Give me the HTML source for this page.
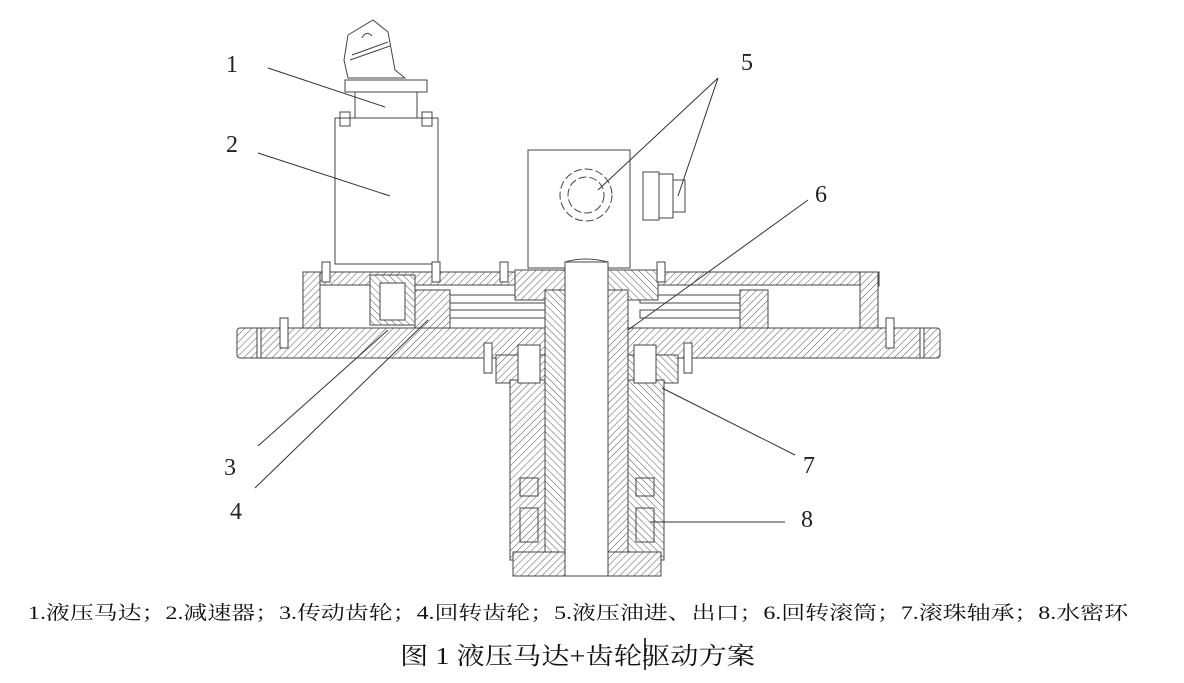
<!DOCTYPE html>
<html><head><meta charset="utf-8"><style>
html,body{margin:0;padding:0;background:#fff;width:1184px;height:683px;overflow:hidden}
svg{display:block}
</style></head><body>
<svg width="1184" height="683" viewBox="0 0 1184 683" xmlns="http://www.w3.org/2000/svg">
<defs>
<pattern id="h" width="5" height="5" patternUnits="userSpaceOnUse" patternTransform="rotate(45)">
<rect width="5" height="5" fill="#fff"/><line x1="0" y1="0" x2="0" y2="5" stroke="#555" stroke-width="1"/>
</pattern>
<pattern id="h2" width="5" height="5" patternUnits="userSpaceOnUse" patternTransform="rotate(-45)">
<rect width="5" height="5" fill="#fff"/><line x1="0" y1="0" x2="0" y2="5" stroke="#555" stroke-width="1"/>
</pattern>
</defs>
<g stroke="#444" stroke-width="1" fill="none">
<!-- motor top -->
<path d="M348 35 L373 20 L388 32 L395 70 L405 78 L348 78 L344 60 Z" fill="#fff"/>
<path d="M352 55 L388 42" /><path d="M350 60 L390 46"/>
<path d="M362 38 q4 -8 10 -2" />
<rect x="345" y="80" width="82" height="12" fill="#fff"/>
<rect x="355" y="92" width="62" height="32" fill="#fff"/>
<!-- motor/reducer body -->
<rect x="335" y="118" width="103" height="146" fill="#fff"/>
<rect x="340" y="112" width="10" height="14"/><rect x="422" y="112" width="10" height="14"/>
<!-- valve block -->
<rect x="528" y="150" width="102" height="118" fill="#fff"/>
<circle cx="586" cy="195" r="26" stroke-dasharray="8 3"/>
<circle cx="586" cy="195" r="18" stroke-dasharray="8 3"/>
<rect x="643" y="172" width="16" height="48"/><rect x="659" y="174" width="14" height="44"/><rect x="673" y="180" width="12" height="32"/>
<!-- top cover -->
<rect x="303" y="272" width="576" height="14" fill="url(#h)"/>
<rect x="303" y="272" width="17" height="58" fill="url(#h)"/>
<rect x="860" y="272" width="18" height="58" fill="url(#h)"/>
<rect x="320" y="285" width="540" height="44" fill="#fff"/>
<!-- gears -->
<rect x="370" y="275" width="45" height="50" fill="url(#h2)"/>
<rect x="380" y="283" width="25" height="37" fill="#fff"/>
<rect x="415" y="290" width="35" height="38" fill="url(#h)"/>
<rect x="450" y="295" width="100" height="8" /><rect x="450" y="310" width="100" height="8"/>
<rect x="640" y="295" width="115" height="8" /><rect x="640" y="310" width="115" height="8"/>
<rect x="740" y="290" width="28" height="38" fill="url(#h)"/>
<rect x="515" y="270" width="50" height="30" fill="url(#h)"/>
<rect x="608" y="270" width="50" height="30" fill="url(#h2)"/>
<!-- flange plate -->
<rect x="237" y="328" width="703" height="30" rx="3" fill="url(#h)"/>
<rect x="257" y="328" width="4" height="30" fill="#fff"/><rect x="920" y="328" width="4" height="30" fill="#fff"/>
<!-- lower tube -->
<rect x="496" y="355" width="52" height="28" fill="url(#h)"/>
<rect x="626" y="355" width="52" height="28" fill="url(#h2)"/>
<rect x="510" y="380" width="38" height="180" fill="url(#h)"/>
<rect x="626" y="380" width="38" height="180" fill="url(#h2)"/>
<rect x="545" y="290" width="20" height="265" fill="url(#h2)"/>
<rect x="608" y="290" width="20" height="265" fill="url(#h)"/>
<rect x="513" y="552" width="148" height="24" fill="url(#h)"/>
<rect x="565" y="262" width="43" height="314" fill="#fff"/>
<path d="M565 262 q20 -6 43 0"/>
<rect x="518" y="345" width="22" height="38" fill="#fff"/><rect x="634" y="345" width="22" height="38" fill="#fff"/>
<rect x="520" y="478" width="18" height="18"/><rect x="636" y="478" width="18" height="18"/>
<rect x="520" y="508" width="18" height="34"/><rect x="636" y="508" width="18" height="34"/>
<!-- bolts -->
<g fill="#fff"><rect x="280" y="318" width="8" height="30"/><rect x="886" y="318" width="8" height="30"/>
<rect x="484" y="343" width="8" height="30"/><rect x="684" y="343" width="8" height="30"/>
<rect x="322" y="262" width="8" height="20"/><rect x="432" y="262" width="8" height="20"/>
<rect x="500" y="262" width="8" height="20"/><rect x="657" y="262" width="8" height="20"/></g>
</g>
<!-- leaders -->
<g stroke="#333" stroke-width="1" fill="none">
<line x1="268" y1="68" x2="385" y2="107"/>
<line x1="258" y1="153" x2="390" y2="196"/>
<line x1="718" y1="78" x2="598" y2="190"/>
<line x1="718" y1="78" x2="678" y2="196"/>
<line x1="808" y1="200" x2="628" y2="330"/>
<line x1="795" y1="455" x2="662" y2="388"/>
<line x1="785" y1="522" x2="650" y2="522"/>
<line x1="258" y1="446" x2="388" y2="330"/>
<line x1="255" y1="488" x2="428" y2="320"/>
</g>
<g font-family="'Liberation Serif',serif" font-size="24" fill="#222">
<text x="226" y="72">1</text><text x="226" y="152">2</text><text x="224" y="475">3</text><text x="230" y="519">4</text>
<text x="741" y="70">5</text><text x="815" y="202">6</text><text x="803" y="473">7</text><text x="801" y="527">8</text>
</g>
<g font-family="'Liberation Serif','Noto Serif CJK SC',serif" fill="#111">
<text x="28" y="619" font-size="19" textLength="1100" lengthAdjust="spacingAndGlyphs">1.液压马达；2.减速器；3.传动齿轮；4.回转齿轮；5.液压油进、出口；6.回转滚筒；7.滚珠轴承；8.水密环</text>
<text x="400" y="664" font-size="24" textLength="355" lengthAdjust="spacingAndGlyphs">图 1 液压马达+齿轮驱动方案</text>
</g>
<line x1="645" y1="638" x2="645" y2="670" stroke="#000" stroke-width="1.5"/>
</svg>
</body></html>
